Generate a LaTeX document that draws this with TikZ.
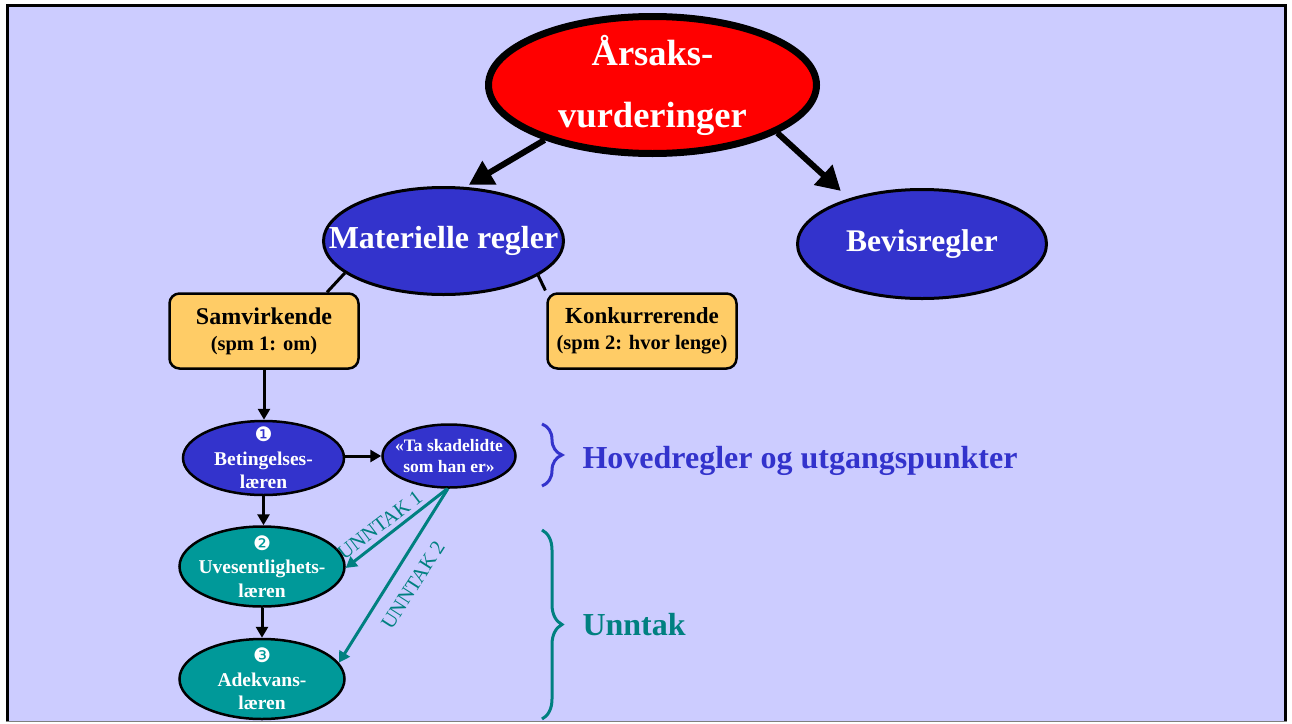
\documentclass[tikz,border=0pt]{standalone}
\usepackage{fontspec}
\setmainfont{Liberation Serif}
\newfontfamily\dingfont{DejaVu Sans}
\usetikzlibrary{shapes.geometric,arrows.meta,decorations.pathreplacing}
\definecolor{bgc}{HTML}{CCCCFF}
\definecolor{nblue}{HTML}{3333CC}
\definecolor{nteal}{HTML}{009999}
\definecolor{tealtxt}{HTML}{008080}
\definecolor{nyellow}{HTML}{FFCC66}
\newcommand{\fs}[2]{\fontsize{#1}{#2}\selectfont}
\newcommand{\dnum}[1]{{\dingfont\mdseries\fs{20}{23.5}#1}}
\begin{document}
\begin{tikzpicture}[x=1pt,y=-1pt,
  ell/.style={ellipse, draw=black, inner sep=-60pt, align=center, text=white},
  box/.style={rectangle, rounded corners=10pt, draw=black, line width=2.5pt, fill=nyellow,
              inner sep=0pt, align=center, minimum width=189pt, minimum height=75pt},
  bigarrow/.style={line width=6pt, -{Triangle[length=24pt,width=26pt]}},
  link/.style={line width=3pt},
  smallarrow/.style={line width=3pt, -{Triangle[length=11pt,width=12pt]}},
  tealarrow/.style={line width=3pt, draw=tealtxt, -{Triangle[length=11pt,width=12pt]}},
  tlabel/.style={text=tealtxt, font=\fs{20.5}{22}, inner sep=0pt},
  bracestyle/.style={decorate, decoration={brace, amplitude=20pt}, line width=3pt},
  sidetext/.style={anchor=base west, font=\bfseries\fs{32}{36}}
]
\useasboundingbox (0,0) rectangle (1292,723);
\fill[white] (0,0) rectangle (1292,723);
\fill[bgc] (7,5) rectangle (1285,721);

% main nodes
\node[ell, fill=red, line width=7pt, minimum width=328pt, minimum height=137pt,
      font=\bfseries\fs{36.5}{62}] (top) at (652.5,85) {Årsaks-\\vurderinger};
\node[ell, fill=nblue, line width=3pt, minimum width=240pt, minimum height=107pt,
      font=\bfseries\fs{32}{36}] (mat) at (443.5,241) {Materielle regler};
\node[ell, fill=nblue, line width=3pt, minimum width=249pt, minimum height=109pt,
      font=\bfseries\fs{31.5}{36}] (bev) at (922,244) {Bevisregler};

\node[box, font=\bfseries\fs{20.5}{26}] (samv) at (264,331) {{\fs{24}{26}Samvirkende}\\(spm 1: om)};
\node[box, font=\bfseries\fs{20.5}{26}] (konk) at (642,331) {{\fs{23}{26}Konkurrerende}\\(spm 2: hvor lenge)};

\node[ell, fill=nblue, line width=2.5pt, minimum width=161pt, minimum height=74pt,
      font=\bfseries\fs{19.5}{23.5}] (bet) at (263.5,458) {\dnum{❶}\\Betingelses-\\læren};
\node[ell, fill=nblue, line width=2.5pt, minimum width=133pt, minimum height=63pt,
      font=\bfseries\fs{17.5}{21}] (ta) at (449,456) {«Ta skadelidte\\som han er»};
\node[ell, fill=nteal, line width=2.5pt, minimum width=165pt, minimum height=80pt,
      font=\bfseries\fs{19.5}{23.5}] (uves) at (262,566.5) {\dnum{❷}\\Uvesentlighets-\\læren};
\node[ell, fill=nteal, line width=2.5pt, minimum width=165pt, minimum height=80pt,
      font=\bfseries\fs{19.5}{23.5}] (adek) at (262,679) {\dnum{❸}\\Adekvans-\\læren};

% connectors
\draw[bigarrow, shorten >=4pt] (top.207) -- (mat.68);
\draw[bigarrow, shorten >=11pt] (top.339) -- (bev.148);
\draw[link] (mat.198) -- ([xshift=63pt]samv.north);
\draw[link, shorten >=2pt] (mat.340) -- (konk.north west);

\draw[smallarrow] (samv.south) -- (samv.south |- bet.north);
\draw[smallarrow] (bet.east |- ta.west) -- (ta.west);
\draw[smallarrow] (bet.south) -- (bet.south |- uves.north);
\draw[smallarrow] (uves.south) -- (adek.north);

\draw[tealarrow] (ta.267) -- (uves.359);
\draw[tealarrow] (ta.268) -- (adek.12);
\node[tlabel, rotate=37.4] (lab1) at (380,525) {UNNTAK 1};
\node[tlabel, rotate=57.3] (lab2) at (413,585) {UNNTAK 2};

% braces and side texts
\draw[bracestyle, draw=nblue] (542,424) -- (542,486);
\draw[bracestyle, draw=tealtxt] (542,530) -- (542,719);
\node[sidetext, text=nblue] (hov) at (579,468) {Hovedregler og utgangspunkter};
\node[sidetext, text=tealtxt] (unn) at (579,635) {Unntak};

% frame
\draw[line width=3pt] (7,721) -- (7,5) -- (1285,5) -- (1285,721);
\draw[gray, line width=1.5pt] (5.5,721.5) -- (1286.5,721.5);
\end{tikzpicture}
\end{document}
